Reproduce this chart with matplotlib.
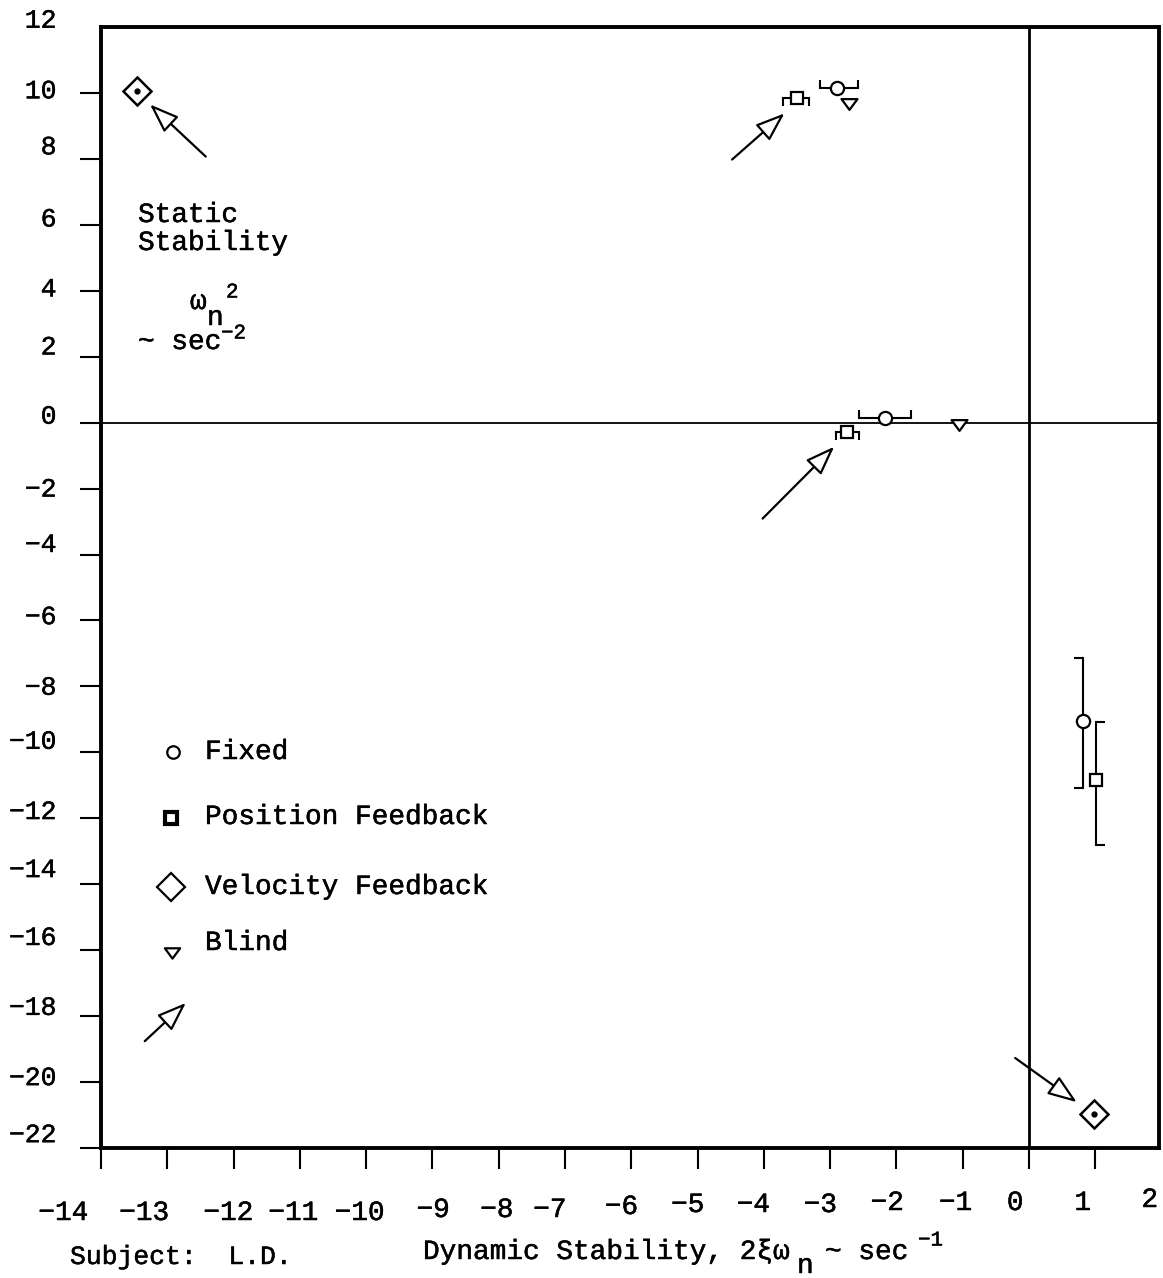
import matplotlib.pyplot as plt
import matplotlib.patheffects as pe
from matplotlib.path import Path

plt.rcParams['font.family'] = ['Liberation Mono', 'DejaVu Sans Mono']
plt.rcParams['axes.unicode_minus'] = False

W, H = 1163, 1278

# values
# each subject point has a range: horizontal for the first two, vertical for the last
fixed_x = [-2.89, -2.17, 0.81]
fixed_y = [10.14, 0.15, -9.04]
fixed_lo = [-3.16, -2.56, -7.13]
fixed_hi = [-2.58, -1.78, -11.08]

pos_x = [-3.50, -2.74, 1.01]
pos_y = [9.86, -0.27, -10.83]
pos_lo = [-3.71, -2.92, -9.07]
pos_hi = [-3.32, -2.56, -12.81]

vel_x = [-13.46, 0.98]
vel_y = [10.05, -20.97]

blind_x = [-2.71, -1.05]
blind_y = [9.71, -0.05]

range_dir = ['h', 'h', 'v']

xticks = list(range(-14, 2))
yticks = list(range(-22, 11, 2))
xlabels = ['-14', '-13', '-12', '-11', '-10', '-9', '-8', '-7', '-6', '-5',
           '-4', '-3', '-2', '-1', '0', '1', '2']
ylabels = ['12', '10', '8', '6', '4', '2', '0', '-2', '-4', '-6', '-8', '-10',
           '-12', '-14', '-16', '-18', '-20', '-22']

# the typed labels don't sit exactly on the ticks, so place them where they are
xlabel_pos = [-14.57, -13.35, -12.08, -11.10, -10.10, -8.99, -8.03, -7.23, -6.15,
              -5.15, -4.16, -3.15, -2.14, -1.11, -0.21, 0.81, 1.82]
xlabel_py = [1213] * 5 + [1210] * 3 + [1207] + [1205] * 3 + [1203] * 4 + [1200]
ylabel_pos = [12.19, 10.05, 8.35, 6.16, 4.04, 2.28, 0.18, -2.03, -3.71, -5.90,
              -8.04, -9.68, -11.81, -13.57, -15.63, -17.75, -19.88, -21.61]

# arrows (tail, tip) pointing at the velocity feedback / position feedback points
arrows = [((-12.42, 8.07), (-13.26, 9.65)),
          ((-4.48, 7.98), (-3.69, 9.38)),
          ((-4.02, -2.91), (-2.94, -0.73)),
          ((-0.21, -19.27), (0.72, -20.61)),
          ((-13.34, -18.76), (-12.72, -17.60))]

# typewriter ink is a little heavier than the font
ink = [pe.withStroke(linewidth=0.35, foreground='black')]

fig = plt.figure(figsize=(W / 100, H / 100), dpi=100)
ax = fig.add_axes([101 / W, 1 - 1148 / H, (1159 - 101) / W, (1148 - 27) / H])
ax.set_xlim(-14, 1.96)
ax.set_ylim(-22, 12)

for s in ax.spines.values():
    s.set_linewidth(2.8)
ax.set_xticks(xticks)
ax.set_yticks(yticks)
ax.set_xticklabels([])
ax.set_yticklabels([])
ax.tick_params(direction='out', length=15, width=1.5)

ax.axhline(0, color='k', lw=1.3, zorder=1)
ax.axvline(0, color='k', lw=2.0, zorder=1)


def cap(dx, dy):
    return Path([(0, 0), (dx, dy)])


def draw_range(x, y, lo, hi, d, capm, ms):
    if d == 'h':
        xs, ys = [lo, hi], [y, y]
    else:
        xs, ys = [x, x], [lo, hi]
    ax.plot(xs, ys, color='k', lw=1.5, zorder=2)
    ax.plot(xs, ys, ls='none', marker=capm, ms=ms, mec='k', mew=1.5, zorder=2)


for i in range(3):
    if range_dir[i] == 'h':
        draw_range(fixed_x[i], fixed_y[i], fixed_lo[i], fixed_hi[i], 'h', cap(0, 1), 11)
        draw_range(pos_x[i], pos_y[i], pos_lo[i], pos_hi[i], 'h', cap(0, -1), 11)
    else:
        draw_range(fixed_x[i], fixed_y[i], fixed_lo[i], fixed_hi[i], 'v', cap(-1, 0), 13)
        draw_range(pos_x[i], pos_y[i], pos_lo[i], pos_hi[i], 'v', cap(1, 0), 13)

tri = Path([(-1, 0.55), (1, 0.55), (0, -0.8), (-1, 0.55)], closed=True)

ax.plot(fixed_x, fixed_y, ls='none', marker='o', ms=9.5, mfc='white', mec='k', mew=1.6, zorder=3)
ax.plot(pos_x, pos_y, ls='none', marker='s', ms=9, mfc='white', mec='k', mew=1.6, zorder=3)
ax.plot(vel_x, vel_y, ls='none', marker='D', ms=14, mfc='white', mec='k', mew=1.8, zorder=3)
ax.plot(vel_x, vel_y, ls='none', marker='o', ms=3.5, color='k', zorder=4)
ax.plot(blind_x, blind_y, ls='none', marker=tri, ms=11.5, mfc='white', mec='k', mew=1.6, zorder=3)

for tail, tip in arrows:
    ax.annotate('', xy=tip, xytext=tail,
                arrowprops=dict(arrowstyle='-|>,head_length=0.9,head_width=0.33',
                                fc='white', ec='black', lw=1.6, mutation_scale=20,
                                shrinkA=0, shrinkB=0))

# tick labels (typed with a long dash for the minus)
for lab, xp, py in zip(xlabels, xlabel_pos, xlabel_py):
    ax.text(xp, (1148 - py) / 1121, lab.replace('-', '\u2212'), transform=ax.get_xaxis_transform(),
            ha='center', va='center', fontsize=20, clip_on=False, path_effects=ink)
for lab, yp in zip(ylabels, ylabel_pos):
    ax.text(-0.042, yp, lab.replace('-', '\u2212'), transform=ax.get_yaxis_transform(),
            ha='right', va='center', fontsize=19, clip_on=False, path_effects=ink)


def ftext(px, py, s, size=20, **kw):
    fig.text(px / W, 1 - py / H, s, fontsize=size, va='center', path_effects=ink, **kw)


# legend, typed by hand in the original
leg_ax = [(0.068, 0.353), (0.066, 0.294), (0.066, 0.233), (0.067, 0.175)]
ax.plot(*leg_ax[0], transform=ax.transAxes, marker='o', ms=9, mfc='white', mec='k', mew=1.6)
ax.plot(*leg_ax[1], transform=ax.transAxes, marker='s', ms=9, mfc='white', mec='k', mew=3)
ax.plot(*leg_ax[2], transform=ax.transAxes, marker='D', ms=14, mfc='white', mec='k', mew=1.6)
ax.plot(*leg_ax[3], transform=ax.transAxes, marker=tri, ms=11, mfc='white', mec='k', mew=1.6)
ftext(205, 752, 'Fixed')
ftext(205, 817, 'Position Feedback')
ftext(205, 887, 'Velocity Feedback')
ftext(205, 943, 'Blind')

# y axis caption
ftext(138, 215, 'Static')
ftext(138, 243, 'Stability')
ftext(190, 302, 'ω')
ftext(207, 318, 'n')
ftext(226, 292, '2', size=15)
ftext(138, 342, '~ sec')
ftext(221, 333, '\u22122', size=15)

# x axis caption
ftext(423, 1252, 'Dynamic Stability, 2ξω')
ftext(797, 1266, 'n')
ftext(825, 1252, '~ sec')
ftext(918, 1240, '\u22121', size=15)
ftext(70, 1257, 'Subject:  L.D.', size=19)

fig.savefig('out.png', dpi=100)
